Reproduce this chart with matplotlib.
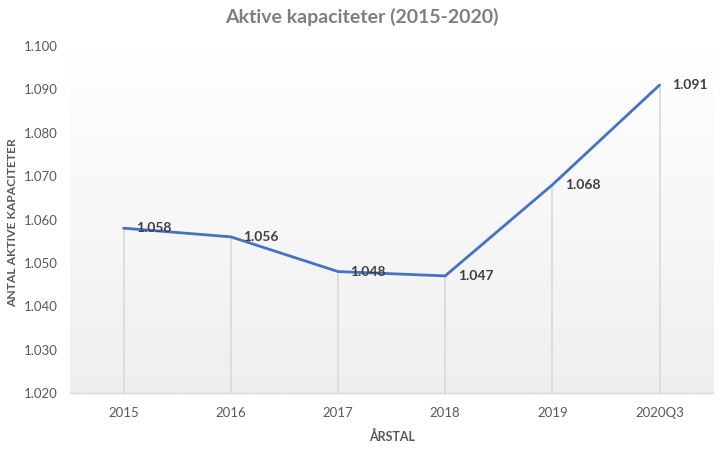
import numpy as np
import matplotlib.pyplot as plt
from matplotlib.colors import LinearSegmentedColormap
from matplotlib.ticker import FuncFormatter, MultipleLocator


CATEGORIES = ["2015", "2016", "2017", "2018", "2019", "2020Q3"]
VALUES = [1058, 1056, 1048, 1047, 1068, 1091]
Y_MIN, Y_MAX = 1020, 1100

LINE_COLOR = "#4472c4"
TEXT_COLOR = "#595959"
LABEL_COLOR = "#404040"


def dk_thousands(v, _pos=None):
    return f"{int(round(v)):,}".replace(",", ".")


def main() -> None:
    plt.rcParams.update({"font.family": ["Lato", "DejaVu Sans"]})
    fig = plt.figure(figsize=(7.24, 4.51), dpi=100)
    fig.patch.set_facecolor("white")
    ax = fig.add_axes((0.0967, 0.1286, 0.8883, 0.7694))

    x = np.arange(len(CATEGORIES))

    # soft vertical gradient behind the plot area
    grad = np.linspace(0.0, 1.0, 256).reshape(-1, 1)
    cmap = LinearSegmentedColormap.from_list("bg", ["#ffffff", "#efefef"])
    ax.imshow(grad, cmap=cmap, aspect="auto", extent=(0, 1, 0, 1),
              transform=ax.transAxes, origin="upper", zorder=0)

    ax.vlines(x, Y_MIN, VALUES, color="#d9d9d9", linewidth=1.2, zorder=1)
    ax.plot(x, VALUES, color=LINE_COLOR, linewidth=2.0, zorder=3,
            solid_capstyle="round", solid_joinstyle="round")

    for xi, v in zip(x, VALUES):
        ax.annotate(dk_thousands(v), (xi, v), xytext=(9, 0), textcoords="offset points",
                    ha="left", va="center", fontsize=10, fontweight="bold",
                    color=LABEL_COLOR, zorder=4)

    ax.set_xlim(-0.5, len(CATEGORIES) - 0.5)
    ax.set_ylim(Y_MIN, Y_MAX)
    ax.set_xticks(x, labels=CATEGORIES)
    ax.yaxis.set_major_locator(MultipleLocator(10))
    ax.yaxis.set_major_formatter(FuncFormatter(dk_thousands))
    ax.tick_params(axis="both", length=0, labelsize=9.5, colors=TEXT_COLOR)
    ax.tick_params(axis="x", pad=10)
    ax.tick_params(axis="y", pad=9)

    for side in ("top", "right", "left"):
        ax.spines[side].set_visible(False)
    ax.spines["bottom"].set_color("#d9d9d9")
    ax.spines["bottom"].set_linewidth(1.0)

    ax.set_xlabel("ÅRSTAL", fontsize=9, fontweight="bold", color=TEXT_COLOR, labelpad=8)
    ax.set_ylabel("ANTAL AKTIVE KAPACITETER", fontsize=8.7, fontweight="bold",
                  color=TEXT_COLOR)
    ax.yaxis.set_label_coords(-0.0812, 0.49)

    fig.text(0.5, 0.962, "Aktive kapaciteter (2015-2020)", ha="center", va="center",
             fontsize=14, fontweight="bold", color="#7f7f7f")

    fig.savefig("out.png", dpi=100)


if __name__ == "__main__":
    main()
